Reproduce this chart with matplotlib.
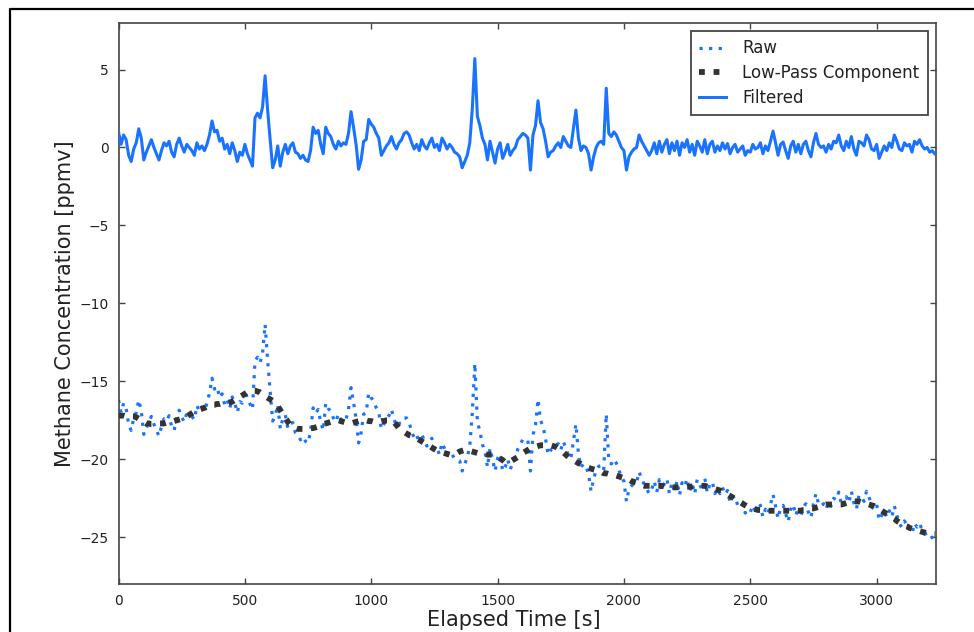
import numpy as np
import matplotlib
matplotlib.use("Agg")
import matplotlib.pyplot as plt
from matplotlib.lines import Line2D

plt.rcParams['font.family'] = ['DejaVu Sans']

# Sample times (10 s sampling interval)
time_s = np.arange(0, 3240, 10)

# High-pass (filtered) methane signal, ppmv
filtered = [
    1.0, 0.2, 0.8, 0.5, -0.5, -0.9, -0.1, 0.3, 1.2, 0.6,
    -0.8, -0.3, 0.1, 0.5, 0.0, -0.4, -0.8, -0.2, 0.3, 0.1,
    0.4, -0.3, -0.6, 0.2, 0.6, 0.1, -0.3, 0.2, 0.0, -0.2,
    -0.5, 0.3, -0.1, 0.1, -0.2, 0.2, 0.8, 1.7, 1.0, 1.1,
    0.4, 0.6, -0.1, 0.2, -0.4, 0.3, -0.2, -0.9, -0.3, -0.5,
    0.2, -0.4, -0.8, -1.2, 1.9, 2.2, 1.9, 2.6, 4.6, 2.4,
    0.5, -1.3, -0.8, 0.1, -1.2, -0.3, 0.2, -0.4, 0.1, 0.3,
    -0.3, -0.4, -0.7, -0.5, -0.8, -0.9, -0.2, 1.3, 0.9, 1.1,
    0.2, -0.4, 1.3, 0.9, 0.7, 0.2, -0.1, 0.4, 0.1, 0.3,
    0.2, 0.9, 2.3, 1.3, 0.2, -1.4, -0.8, 0.4, 0.5, 1.8,
    1.5, 1.3, 0.9, 0.6, -0.5, -0.2, 0.1, 0.3, 0.7, 0.2,
    -0.1, 0.3, 0.5, 0.9, 1.0, 0.8, 0.3, -0.1, 0.2, -0.2,
    0.5, 0.1, -0.1, 0.3, 0.6, 0.0, 0.2, -0.2, 0.6, 0.3,
    -0.1, 0.2, 0.0, -0.3, -0.4, -0.6, -1.3, -0.9, -0.5, 0.3,
    2.5, 5.7, 2.0, 1.4, 0.6, 0.2, -0.8, 0.4, -0.3, -1.0,
    -0.1, 0.3, -0.7, -0.3, 0.2, -0.5, -0.2, 0.0, 0.5, 0.7,
    0.9, 0.8, 0.6, -1.45, 0.8, 1.4, 3.0, 1.6, 1.2, 0.4,
    -0.6, -0.3, -0.2, 0.1, 0.3, 0.0, 0.7, 0.4, 0.1, 0.0,
    1.2, 2.4, 0.6, -0.2, 0.1, 0.0, -0.4, -1.45, -0.6, 0.0,
    0.3, 0.4, 0.2, 3.8, 0.9, 0.7, 1.0, 0.8, 0.4, 0.0,
    -0.2, -1.45, -0.6, -0.3, -0.1, 0.0, 0.8, 0.4, 0.1, -0.2,
    -0.5, -0.2, 0.3, -0.4, 0.4, -0.3, 0.2, 0.5, -0.4, 0.3,
    -0.2, 0.4, -0.5, 0.3, 0.0, 0.5, -0.3, 0.2, -0.5, 0.4,
    0.1, -0.3, 0.5, -0.4, 0.2, 0.4, -0.3, 0.1, -0.2, 0.3,
    -0.1, 0.25, -0.4, 0.0, 0.2, -0.3, -0.1, 0.1, -0.5, -0.2,
    -0.3, 0.2, -0.1, 0.0, 0.3, -0.4, 0.1, -0.2, 0.4, 1.05,
    0.3, -0.5, 0.2, 0.35, -0.2, -0.7, 0.1, 0.4, -0.3, 0.2,
    -0.4, 0.2, 0.4, -0.2, -0.6, 0.3, 0.9, 0.2, 0.0, 0.1,
    -0.3, 0.2, -0.1, 0.4, 0.3, 0.8, 0.1, -0.2, 0.4, 0.0,
    0.7, -0.1, -0.5, 0.4, 0.3, 0.1, 0.8, 0.5, -0.1, -0.2,
    0.2, -0.7, -0.3, 0.1, -0.2, 0.3, 0.0, 0.8, 0.4, -0.1,
    -0.2, 0.3, 0.1, 0.2, -0.3, 0.4, 0.2, 0.5, 0.1, -0.1,
    0.0, -0.3, -0.2, -0.4,
]

# Slowly varying (low-pass) component, ppmv
low_pass = [
    -17.2, -17.2, -17.2, -17.25, -17.25, -17.25, -17.25, -17.3, -17.4, -17.5,
    -17.6, -17.7, -17.7, -17.75, -17.75, -17.75, -17.7, -17.7, -17.7, -17.65,
    -17.6, -17.6, -17.55, -17.5, -17.45, -17.4, -17.3, -17.25, -17.15, -17.05,
    -16.95, -16.85, -16.8, -16.75, -16.7, -16.6, -16.55, -16.5, -16.5, -16.45,
    -16.45, -16.4, -16.4, -16.4, -16.35, -16.3, -16.2, -16.1, -16.0, -15.9,
    -15.8, -15.7, -15.65, -15.6, -15.6, -15.65, -15.7, -15.8, -15.95, -16.05,
    -16.15, -16.25, -16.4, -16.6, -16.85, -17.1, -17.35, -17.6, -17.8, -17.95,
    -18.0, -18.05, -18.05, -18.05, -18.05, -18.05, -18.0, -18.0, -17.95, -17.9,
    -17.8, -17.75, -17.7, -17.65, -17.6, -17.55, -17.5, -17.5, -17.55, -17.6,
    -17.65, -17.7, -17.7, -17.65, -17.6, -17.55, -17.5, -17.5, -17.5, -17.55,
    -17.55, -17.6, -17.6, -17.6, -17.55, -17.55, -17.5, -17.5, -17.5, -17.6,
    -17.8, -18.0, -18.15, -18.25, -18.35, -18.45, -18.5, -18.55, -18.65, -18.75,
    -18.85, -18.95, -19.05, -19.15, -19.25, -19.35, -19.45, -19.5, -19.55, -19.6,
    -19.65, -19.7, -19.7, -19.65, -19.6, -19.5, -19.45, -19.4, -19.4, -19.45,
    -19.5, -19.55, -19.6, -19.6, -19.65, -19.65, -19.7, -19.7, -19.7, -19.75,
    -19.85, -19.95, -20.05, -20.2, -20.2, -20.15, -20.05, -19.95, -19.85, -19.75,
    -19.6, -19.5, -19.4, -19.3, -19.25, -19.2, -19.15, -19.1, -19.1, -19.1,
    -19.1, -19.1, -19.15, -19.2, -19.3, -19.4, -19.55, -19.7, -19.85, -19.95,
    -20.05, -20.15, -20.25, -20.3, -20.4, -20.45, -20.55, -20.6, -20.65, -20.7,
    -20.75, -20.8, -20.9, -20.9, -20.95, -21.0, -21.0, -21.05, -21.1, -21.15,
    -21.2, -21.25, -21.3, -21.4, -21.45, -21.5, -21.6, -21.65, -21.7, -21.7,
    -21.7, -21.7, -21.7, -21.7, -21.7, -21.7, -21.75, -21.75, -21.8, -21.8,
    -21.8, -21.8, -21.8, -21.8, -21.75, -21.75, -21.75, -21.75, -21.7, -21.7,
    -21.7, -21.7, -21.7, -21.75, -21.8, -21.85, -21.9, -21.95, -22.0, -22.1,
    -22.15, -22.25, -22.35, -22.45, -22.55, -22.65, -22.75, -22.85, -22.95, -23.05,
    -23.1, -23.15, -23.2, -23.25, -23.25, -23.3, -23.3, -23.3, -23.3, -23.3,
    -23.3, -23.3, -23.3, -23.3, -23.3, -23.3, -23.3, -23.3, -23.3, -23.3,
    -23.3, -23.25, -23.25, -23.2, -23.15, -23.15, -23.1, -23.05, -23.0, -22.95,
    -22.9, -22.9, -22.9, -22.9, -22.9, -22.9, -22.9, -22.85, -22.8, -22.8,
    -22.75, -22.7, -22.7, -22.7, -22.75, -22.8, -22.85, -22.9, -22.95, -23.0,
    -23.1, -23.2, -23.3, -23.4, -23.5, -23.6, -23.7, -23.8, -23.95, -24.05,
    -24.15, -24.25, -24.3, -24.4, -24.45, -24.5, -24.55, -24.6, -24.65, -24.7,
    -24.75, -24.75, -24.8, -24.8,
]

filtered = np.array(filtered)
low_pass = np.array(low_pass)
# The raw record is the sum of its slow and fast components
raw = low_pass + filtered

x_ticks = [0, 500, 1000, 1500, 2000, 2500, 3000]
y_ticks = [-25, -20, -15, -10, -5, 0, 5]

blue = '#1a73ff'
dark = '#333333'

fig = plt.figure(figsize=(9.74, 6.32), dpi=100, facecolor='white')
ax = fig.add_axes([0.1217, 0.0759, 0.8393, 0.8881])

ax.plot(time_s, raw, color=blue, lw=2.3, linestyle=(0, (1.0, 2.0)),
        label='Raw', zorder=2)
ax.plot(time_s, low_pass, color=dark, lw=4.2, linestyle=(0, (1.0, 1.5)),
        label='Low-Pass Component', zorder=3)
ax.plot(time_s, filtered, color=blue, lw=2.2, label='Filtered', zorder=4)

ax.set_xlim(0, 3235)
ax.set_ylim(-28, 8)
ax.set_xticks(x_ticks)
ax.set_yticks(y_ticks)

spine_color = '#444444'
for sp in ax.spines.values():
    sp.set_color(spine_color)
    sp.set_linewidth(1.2)
ax.tick_params(direction='in', length=4, width=1, colors=spine_color,
               top=True, right=True, labelsize=10, labelcolor='#222222', pad=7)

ax.set_xlabel('Elapsed Time [s]', fontsize=15, color='#222222')
ax.set_ylabel('Methane Concentration [ppmv]', fontsize=15, color='#222222')
ax.xaxis.set_label_coords(0.4835, -0.047)
ax.yaxis.set_label_coords(-0.053, 0.5)

leg = ax.legend(loc='upper right', fontsize=12, fancybox=False, framealpha=1,
                handlelength=1.6, handletextpad=1.0, labelspacing=0.4,
                borderpad=0.5, borderaxespad=0.5)
leg.get_frame().set_edgecolor('#444444')
leg.get_frame().set_linewidth(1.3)
for txt in leg.get_texts():
    txt.set_color('#222222')

# Frame lines along the left and top edges of the figure
fig.add_artist(Line2D([10 / 974, 10 / 974, 1.0], [0.0, 1 - 9 / 632, 1 - 9 / 632],
                      transform=fig.transFigure, color='black', lw=1.6))

fig.savefig('out.png', dpi=100, facecolor='white')
